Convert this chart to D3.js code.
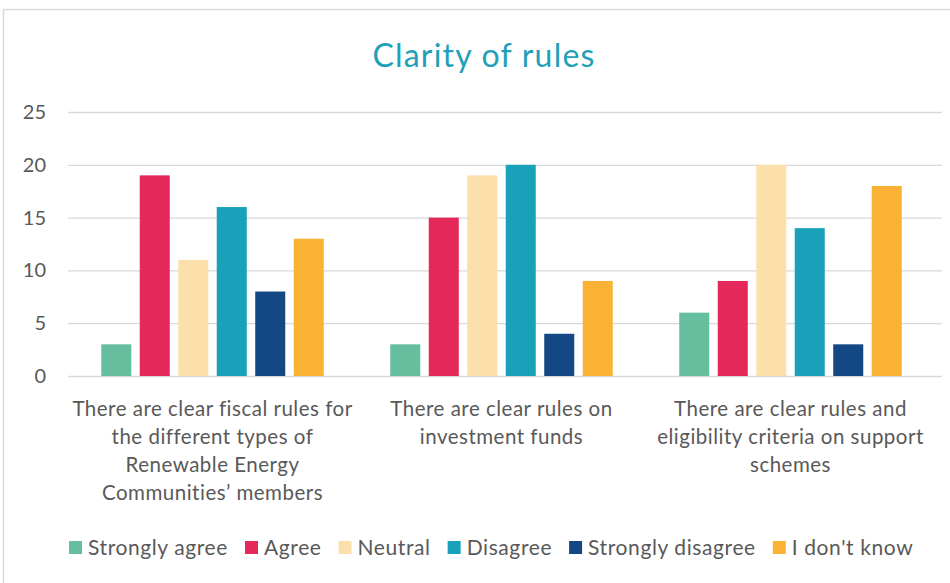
<!DOCTYPE html>
<html>
<head>
<meta charset="utf-8">
<script src="https://cdn.jsdelivr.net/npm/d3@7"></script>
<style>
  body { margin: 0; background: #fff; }
  text { font-family: Lato, "Open Sans", sans-serif; }
</style>
</head>
<body>
<script>
// chart data
var categories = [
  "There are clear fiscal rules for|the different types of|Renewable Energy|Communities\u2019 members",
  "There are clear rules on|investment funds",
  "There are clear rules and|eligibility criteria on support|schemes"
];
var seriesNames = ["Strongly agree", "Agree", "Neutral", "Disagree", "Strongly disagree", "I don't know"];
var seriesColors = ["#65BE9E", "#E5285A", "#FCE0AC", "#1AA1BA", "#134885", "#F9B233"];
var stronglyAgree = [3, 3, 6];
var agree = [19, 15, 9];
var neutral = [11, 19, 20];
var disagree = [16, 20, 14];
var stronglyDisagree = [8, 4, 3];
var dontKnow = [13, 9, 18];
var yTicks = [0, 5, 10, 15, 20, 25];

var w = 950, h = 583;
var allSeries = [stronglyAgree, agree, neutral, disagree, stronglyDisagree, dontKnow];

var svg = d3.select("body").append("svg")
    .attr("width", w)
    .attr("height", h);

// outer chart frame
svg.append("rect")
    .attr("x", 3.5).attr("y", 9.5)
    .attr("width", 960).attr("height", 600)
    .style("fill", "#fff")
    .style("stroke", "#d9d9d9")
    .style("stroke-width", 1.5);

// title
svg.append("text")
    .attr("x", 484).attr("y", 67)
    .attr("text-anchor", "middle")
    .style("font-size", "32px")
    .style("letter-spacing", "1.2px")
    .style("fill", "#1FA0B8")
    .text("Clarity of rules");

var y = d3.scaleLinear().domain([0, 25]).range([376, 112]);

var x0 = d3.scaleBand()
    .domain(d3.range(categories.length))
    .range([68, 935]);

var groupW = 222.5;
var x1 = d3.scaleBand()
    .domain(d3.range(seriesNames.length))
    .range([0, groupW])
    .paddingInner(0.22)
    .paddingOuter(0);

// gridlines
svg.append("g").selectAll("line")
    .data(yTicks)
    .enter().append("line")
    .attr("x1", 68).attr("x2", 942)
    .attr("y1", function(d){ return y(d) + 0.5; })
    .attr("y2", function(d){ return y(d) + 0.5; })
    .style("stroke", "#d9d9d9")
    .style("stroke-width", 1.3);

// y axis labels
var yAxis = d3.axisLeft(y).tickValues(yTicks).tickSize(0).tickPadding(0);
var gy = svg.append("g")
    .attr("transform", "translate(46,0)")
    .call(yAxis);
gy.select(".domain").remove();
gy.selectAll("text")
    .style("font-family", "Lato, sans-serif")
    .style("font-size", "20px")
    .style("fill", "#595959");

// bars
var groups = svg.append("g").selectAll("g")
    .data(categories)
    .enter().append("g")
    .attr("transform", function(d, i){
        return "translate(" + (x0(i) + x0.bandwidth() / 2 - groupW / 2) + ",0)";
    });

groups.selectAll("rect")
    .data(function(d, i){
        return allSeries.map(function(s, j){ return {s: j, v: s[i]}; });
    })
    .enter().append("rect")
    .attr("x", function(d){ return x1(d.s); })
    .attr("width", x1.bandwidth())
    .attr("y", function(d){ return y(d.v); })
    .attr("height", function(d){ return y(0) - y(d.v); })
    .style("fill", function(d){ return seriesColors[d.s]; });

// category labels
var catLabels = svg.append("g").selectAll("text")
    .data(categories)
    .enter().append("text")
    .attr("text-anchor", "middle")
    .attr("y", 416)
    .style("font-size", "20.5px")
    .style("letter-spacing", "0.5px")
    .style("fill", "#595959");

catLabels.selectAll("tspan")
    .data(function(d, i){
        return d.split("|").map(function(t){ return {t: t, i: i}; });
    })
    .enter().append("tspan")
    .attr("x", function(d){ return x0(d.i) + x0.bandwidth() / 2; })
    .attr("dy", function(d, k){ return k === 0 ? 0 : 28; })
    .text(function(d){ return d.t; });

// legend
var legend = svg.append("g").attr("transform", "translate(69,548)");
var lx = 0;
seriesNames.forEach(function(name, j){
    var item = legend.append("g").attr("transform", "translate(" + lx + ",0)");
    item.append("rect")
        .attr("x", 0).attr("y", -7)
        .attr("width", 13).attr("height", 13)
        .style("fill", seriesColors[j]);
    var t = item.append("text")
        .attr("x", 19).attr("y", 7)
        .style("font-size", "21px")
        .style("letter-spacing", "0.6px")
        .style("fill", "#595959")
        .text(name);
    lx += 19 + t.node().getComputedTextLength() + 17;
});
</script>
</body>
</html>
